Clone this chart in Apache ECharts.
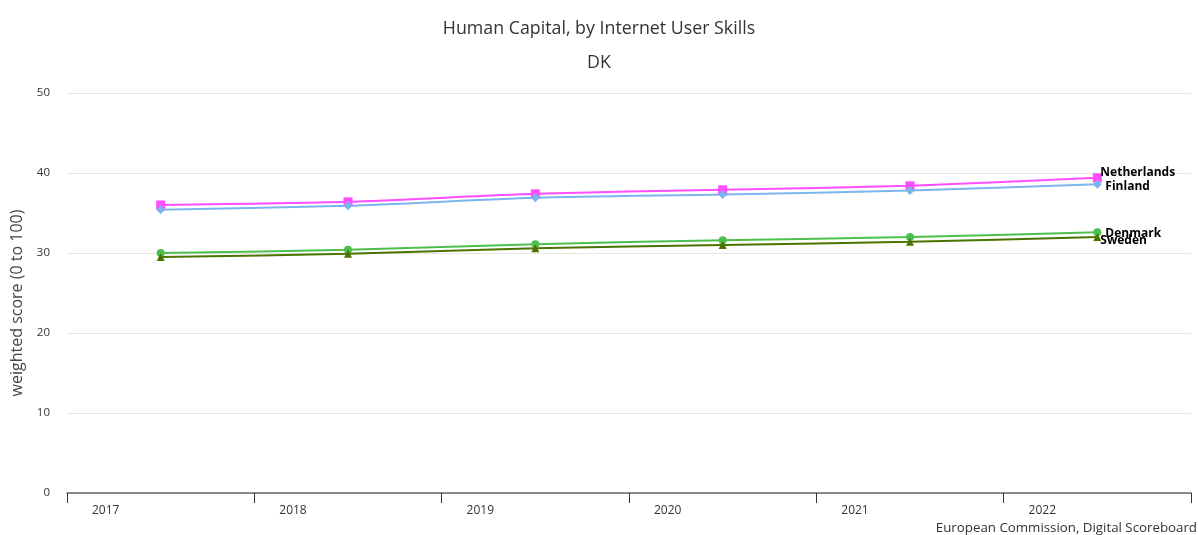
<!DOCTYPE html>
<html>
<head>
<meta charset="utf-8">
<script src="https://cdn.jsdelivr.net/npm/echarts@6/dist/echarts.min.js"></script>
<style>html,body{margin:0;padding:0;background:#fff}#c{width:1198px;height:535px}</style>
</head>
<body>
<div id="c"></div>
<script>
const years = ['2017','2018','2019','2020','2021','2022'];
const netherlands = [36.0, 36.4, 37.4, 37.9, 38.4, 39.4];
const finland = [35.4, 35.9, 36.9, 37.3, 37.8, 38.6];
const denmark = [30.0, 30.4, 31.1, 31.6, 32.0, 32.6];
const sweden = [29.5, 29.9, 30.6, 31.0, 31.4, 32.0];
const yTicks = [0, 10, 20, 30, 40, 50];

const font = 'Open Sans';
function mk(name, data, color, symbol, size, labelOffset) {
  return {
    name, type: 'line', data, smooth: 0.25,
    symbol, symbolSize: size,
    lineStyle: { color, width: 2 },
    itemStyle: { color },
    endLabel: {
      show: true, formatter: name, color: '#000', fontFamily: font,
      fontWeight: 'bold', fontSize: 12, offset: labelOffset, distance: 2
    }
  };
}
const chart = echarts.init(document.getElementById('c'), null, { renderer: 'canvas' });
chart.setOption({
  animation: false,
  backgroundColor: '#fff',
  title: [
    { text: 'Human Capital, by Internet User Skills', left: 'center', top: 15,
      textStyle: { fontFamily: font, fontSize: 17.8, fontWeight: 'normal', color: '#333' } },
    { text: 'DK', left: 'center', top: 49,
      textStyle: { fontFamily: font, fontSize: 17.8, fontWeight: 'normal', color: '#333' } },
    { text: 'European Commission, Digital Scoreboard', right: 1, top: 522, padding: 0,
      textStyle: { fontFamily: font, fontSize: 13.3, fontWeight: 'normal', color: '#333' } }
  ],
  grid: { left: 67, right: 7, top: 93, bottom: 42 },
  xAxis: {
    type: 'category', data: years, boundaryGap: true,
    axisLine: { lineStyle: { color: '#666', width: 1.5 } },
    axisTick: { show: true, length: 10, lineStyle: { color: '#333' } },
    axisLabel: { color: '#333', fontFamily: font, fontSize: 12, margin: 12,
      padding: [0, 110, 0, 0] },
    splitLine: { show: false }
  },
  yAxis: {
    type: 'value', min: yTicks[0], max: yTicks[yTicks.length - 1], interval: 10,
    name: 'weighted score (0 to 100)', nameLocation: 'middle', nameGap: 42,
    nameTextStyle: { fontFamily: font, fontSize: 16, color: '#444', padding: [0, 20, 0, 0] },
    axisLine: { show: false }, axisTick: { show: false },
    axisLabel: { color: '#333', fontFamily: font, fontSize: 11.5, margin: 17 },
    splitLine: { lineStyle: { color: '#e6e6e6' } }
  },
  series: [
    mk('Netherlands', netherlands, '#ff4dff', 'rect', 9, [1, -5]),
    mk('Finland', finland, '#7cb5ec', 'diamond', 9, [6, 2]),
    mk('Denmark', denmark, '#4cbf4c', 'circle', 8, [6, 1]),
    mk('Sweden', sweden, '#4a7300', 'triangle', 8, [1, 4])
  ]
});
</script>
</body>
</html>
